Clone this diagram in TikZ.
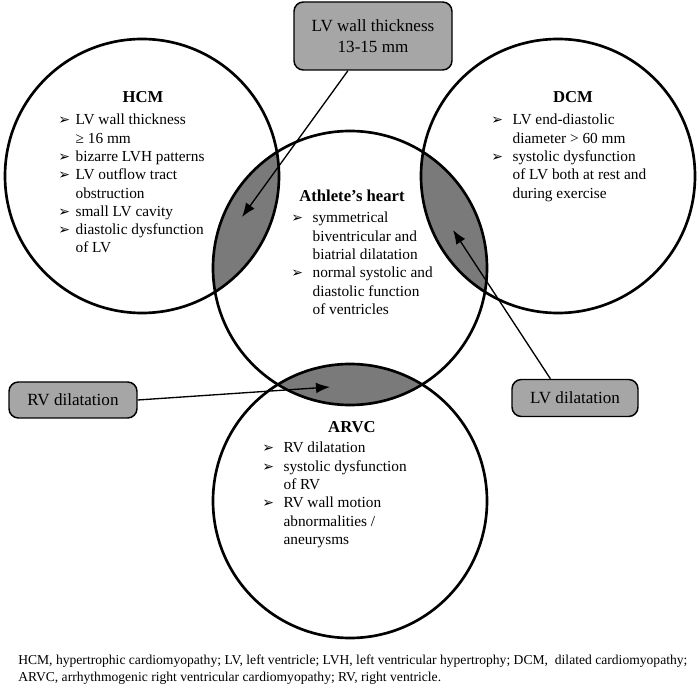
\documentclass[tikz,border=0pt]{standalone}
\usepackage{fontspec}
\setmainfont{Liberation Serif}
\newfontfamily\dingfont{DejaVu Sans}
\usetikzlibrary{arrows.meta,backgrounds}

\definecolor{lensgray}{gray}{0.48}
\definecolor{boxgray}{gray}{0.65}
\newcommand{\bul}{{\dingfont\fontsize{10.5}{10.5}\selectfont ➢}}

\begin{document}
\begin{tikzpicture}[x=0.75pt,y=-0.75pt]
  \tikzstyle{venn} = [circle, draw, line width=2pt, minimum size=205.5pt, inner sep=0pt]
  \tikzstyle{title} = [anchor=base, inner sep=0pt, font=\fontsize{12.5}{15}\selectfont\bfseries]
  \tikzstyle{list} = [anchor=base west, inner sep=0pt, font=\fontsize{11.5}{13.7}\selectfont]
  \tikzstyle{note} = [rectangle, rounded corners=7pt, draw, line width=1.1pt, fill=boxgray, align=center, font=\fontsize{12.8}{15.5}\selectfont]
  \tikzstyle{pointer} = [line width=1pt, -{Latex[length=10.5pt,width=8pt]}]
  \tikzstyle{legend} = [anchor=base west, inner sep=0pt, font=\fontsize{10.2}{12}\selectfont]

  \useasboundingbox (0,0) rectangle (700,691);

  % Draw circles
  \foreach \name/\x/\y in {hcm/142/176, ath/350/268, dcm/558/176, arvc/350/501}
    \node[venn] (\name) at (\x,\y) {};

  % Shade overlaps
  \begin{scope}[on background layer]
    \foreach \a/\b in {hcm/ath, dcm/ath, arvc/ath}
    {
    \begin{scope}
      \clip (\a.center) circle [radius=102.75pt];
      \fill[lensgray] (\b.center) circle [radius=102.75pt];
    \end{scope}
    }
  \end{scope}

  % Titles
  \node[title] (hcm-title) at (143,103) {HCM};
  \node[title] (ath-title) at (352,202) {Athlete’s heart};
  \node[title] (dcm-title) at (573,103) {DCM};
  \node[title] (arvc-title) at (352,433) {ARVC};

  % Lists
  \node[list] (hcm-list) at (58,125) {\begin{tabular}[t]{@{}p{13pt}@{}l@{}}
    \bul & LV wall thickness\\
         & ≥ 16 mm\\
    \bul & bizarre LVH patterns\\
    \bul & LV outflow tract\\
         & obstruction\\
    \bul & small LV cavity\\
    \bul & diastolic dysfunction\\
         & of LV
  \end{tabular}};
  \node[list] (ath-list) at (291,223) {\begin{tabular}[t]{@{}p{16pt}@{}l@{}}
    \bul & symmetrical\\
         & biventricular and\\
         & biatrial dilatation\\
    \bul & normal systolic and\\
         & diastolic function\\
         & of ventricles
  \end{tabular}};
  \node[list] (dcm-list) at (491,125) {\begin{tabular}[t]{@{}p{16pt}@{}l@{}}
    \bul & LV end-diastolic\\
         & diameter > 60 mm\\
    \bul & systolic dysfunction\\
         & of LV both at rest and\\
         & during exercise
  \end{tabular}};
  \node[list] (arvc-list) at (262,453) {\begin{tabular}[t]{@{}p{16pt}@{}l@{}}
    \bul & RV dilatation\\
    \bul & systolic dysfunction\\
         & of RV\\
    \bul & RV wall motion\\
         & abnormalities /\\
         & aneurysms
  \end{tabular}};

  % Boxes
  \node[note, minimum width=118.5pt, minimum height=51pt] (thick) at (373,36) {LV wall thickness\\13-15 mm};
  \node[note, minimum width=96pt, minimum height=27pt] (rvbox) at (73,400) {RV dilatation};
  \node[note, minimum width=94.5pt, minimum height=27.75pt] (lvbox) at (575,398) {LV dilatation};

  % Arrows into the overlaps
  \coordinate (hcm-tip) at (242,217);
  \coordinate (dcm-tip) at (453,230);
  \coordinate (arvc-tip) at (330,387);
  \draw[pointer] (thick) -- (hcm-tip);
  \draw[pointer] (rvbox.east) -- (arvc-tip);
  \draw[pointer] (lvbox.142) -- (dcm-tip);

  % Legend
  \node[legend] (legend-a) at (18,664) {HCM, hypertrophic cardiomyopathy; LV, left ventricle; LVH, left ventricular hypertrophy; DCM, \ dilated cardiomyopathy;};
  \node[legend] (legend-b) at (18,681) {ARVC, arrhythmogenic right ventricular cardiomyopathy; RV, right ventricle.};

\end{tikzpicture}
\end{document}
